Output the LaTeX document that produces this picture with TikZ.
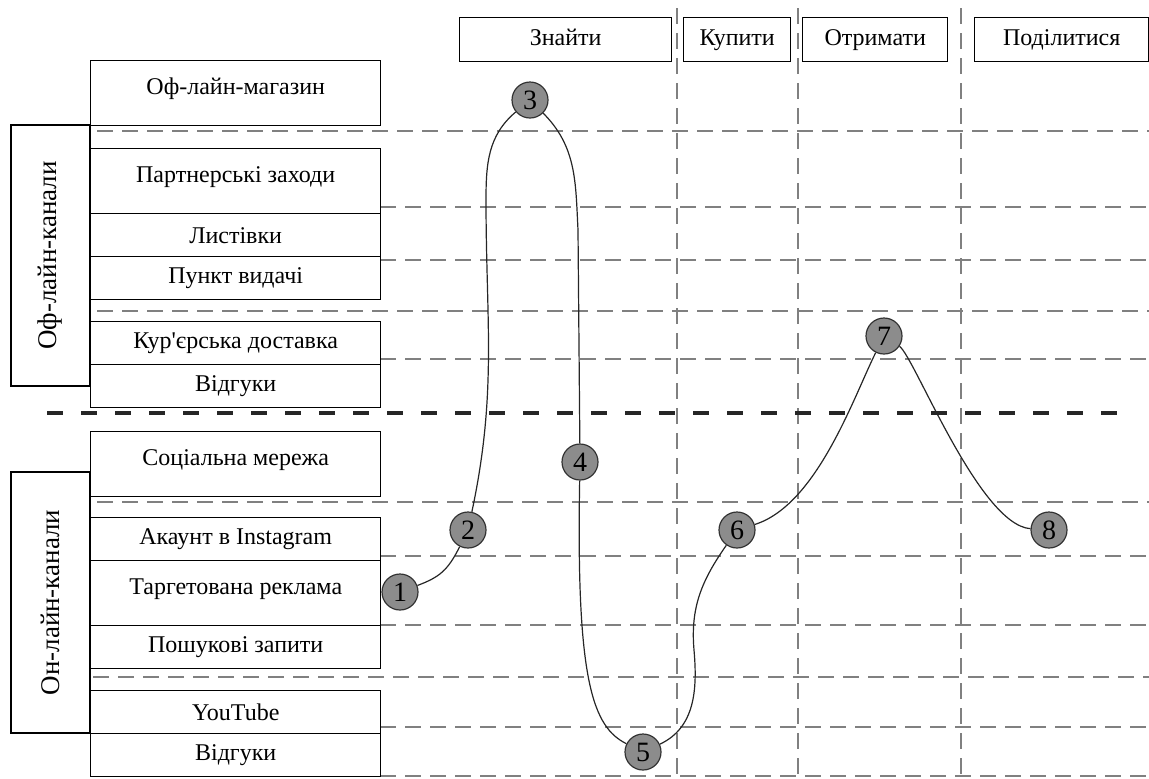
\documentclass[tikz,border=0pt]{standalone}
\usepackage{fontspec}
\setmainfont{Liberation Serif}[Ligatures=TeXOff]
\usetikzlibrary{positioning}

\begin{document}
\begin{tikzpicture}[
  x=0.5pt, y=0.5pt,
  font=\fontsize{12}{14}\selectfont,
  chanbox/.style={draw, line width=0.7pt, anchor=north west, inner sep=0pt,
    minimum width=145pt, minimum height=21.5pt},
  tallbox/.style={chanbox, minimum height=32.5pt, text depth=7pt},
  groupbox/.style={draw, line width=0.7pt, rotate=90, inner sep=0pt,
    minimum width=130.5pt, minimum height=39.5pt, font=\fontsize{13.5}{15}\selectfont},
  stagebox/.style={draw, line width=0.7pt, anchor=north west, inner sep=0pt,
    minimum height=22pt, text height=8pt, text depth=2.5pt},
  gridline/.style={gray, line width=1pt, dash pattern=on 8pt off 4.5pt},
  splitline/.style={black!85, line width=2pt, dash pattern=on 8pt off 9pt},
  stepdot/.style={circle, draw=black!80, fill=gray!90, line width=0.6pt, inner sep=0pt,
    minimum size=18pt, font=\fontsize{14}{16}\selectfont},
  pathline/.style={black!85, line width=0.6pt}
]
% ---- Layout note ----
% One unit = one pixel of the 1149x778 sketch; y runs downward as negative values.
\useasboundingbox (0,0) rectangle (1149,-778);

% ---- Dashed grid (rows and stage columns) ----
\foreach \y in {207,260,359,556,625,727,776} {
  \draw[gridline] (380,-\y) -- (1149,-\y);
}
\foreach \y in {131,311,502} {
  \draw[gridline] (97,-\y) -- (1149,-\y);
}
\draw[gridline] (93,-677) -- (1149,-677);
\foreach \x in {677,798,961} {
  \draw[gridline] (\x,-8) -- (\x,-778);
}

% ---- Off-line / on-line split ----
\draw[splitline] (47,-413) -- (1118,-413);

% ---- Stage headers ----
\node[stagebox, minimum width=106pt] (find) at (459,-17) {Знайти};
\node[stagebox, minimum width=53.5pt] (buy) at (683,-17) {Купити};
\node[stagebox, minimum width=72.5pt] (get) at (802,-17) {Отримати};
\node[stagebox, minimum width=87pt] (share) at (974,-17) {Поділитися};

% ---- Off-line channels ----
\node[groupbox] (offline) at (50.5,-255.5) {Оф-лайн-канали};
\node[tallbox] (shop) at (90,-60) {Оф-лайн-магазин};
\node[tallbox] (partner) at (90,-148) {Партнерські заходи};
\node[chanbox] (leaflet) at (90,-213) {Листівки};
\node[chanbox] (pickup) at (90,-256) {Пункт видачі};
\node[chanbox] (courier) at (90,-321) {Кур'єрська доставка};
\node[chanbox] (reviewoff) at (90,-364) {Відгуки};

% ---- On-line channels ----
\node[groupbox] (online) at (50.5,-602.5) {Он-лайн-канали};
\node[tallbox] (social) at (90,-431) {Соціальна мережа};
\node[chanbox] (insta) at (90,-517) {Акаунт в Instagram};
\node[tallbox] (target) at (90,-560) {Таргетована реклама};
\node[chanbox] (search) at (90,-625) {Пошукові запити};
\node[chanbox] (youtube) at (90,-690) {YouTube};
\node[chanbox] (reviewon) at (90,-733) {Відгуки};

% ---- Journey steps ----
\node[stepdot] (n1) at (400,-592) {1};
\node[stepdot] (n2) at (468,-530) {2};
\node[stepdot] (n3) at (530,-100) {3};
\node[stepdot] (n4) at (580,-462) {4};
\node[stepdot] (n5) at (643,-752) {5};
\node[stepdot] (n6) at (737,-530) {6};
\node[stepdot] (n7) at (884,-336) {7};
\node[stepdot] (n8) at (1049,-530) {8};
\coordinate (bend23) at (486,-200);
\coordinate (bend34) at (578,-230);
\coordinate (bend56) at (694,-650);

% ---- Journey curve ----
\draw[pathline] (n1) .. controls +(40,15) and +(-20,-40) .. (n2);
\draw[pathline] (n2) to[out=78,in=-90] (bend23) to[out=90,in=-140] (n3);
\draw[pathline] (n3) to[out=-45,in=93] (bend34) -- (n4);
\draw[pathline] (n4) .. controls +(-4,-220) and +(-50,25) .. (n5);
\draw[pathline] (n5) to[out=25,in=-85] (bend56) to[out=95,in=-125] (n6);
\draw[pathline] (n6) .. controls +(80,25) and +(-30,-60) .. (n7);
\draw[pathline] (n7) .. controls +(30,-20) and +(-70,5) .. (n8);

\end{tikzpicture}
\end{document}
